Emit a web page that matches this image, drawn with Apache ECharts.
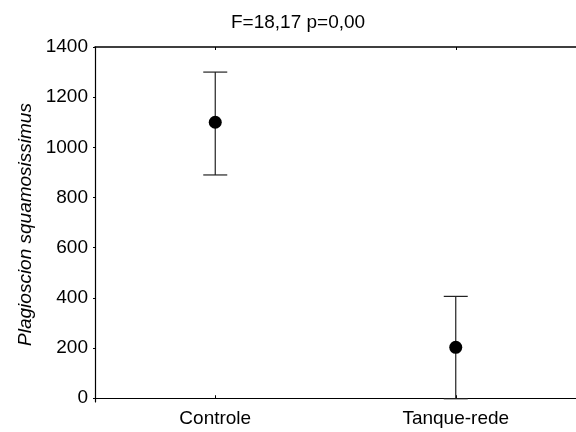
<!DOCTYPE html>
<html>
<head>
<meta charset="utf-8">
<script src="https://cdn.jsdelivr.net/npm/echarts@6/dist/echarts.min.js"></script>
<style>html,body{margin:0;padding:0;background:#fff}#c{width:576px;height:432px}</style>
</head>
<body>
<div id="c"></div>
<script>
const categories = ["Controle", "Tanque-rede"];
const means = [1100, 203];
const upper = [1300, 406];
const lower = [890, -2];
const yTicks = [0, 200, 400, 600, 800, 1000, 1200, 1400];
const titleText = "F=18,17 p=0,00";
const yName = "Plagioscion squamosissimus";

const FONT = "Liberation Sans, Arial, sans-serif";
const chart = echarts.init(document.getElementById('c'), null, {renderer: 'canvas'});
const errData = categories.map((c, i) => [i, lower[i], upper[i]]);

chart.setOption({
  animation: false,
  backgroundColor: '#fff',
  title: {
    text: titleText, left: 226, top: 8,
    textStyle: {fontFamily: FONT, fontSize: 19, fontWeight: 'normal', color: '#000'}
  },
  grid: {left: 95, right: -3, top: 47, bottom: 30, containLabel: false},
  xAxis: [{
    type: 'category', data: categories, position: 'bottom',
    boundaryGap: true,
    axisLine: {show: true, lineStyle: {color: '#000', width: 1.2}},
    axisTick: {show: true, inside: true, length: 3, alignWithLabel: true, lineStyle: {color: '#000'}},
    axisLabel: {fontFamily: FONT, fontSize: 19, color: '#000', margin: 7},
    splitLine: {show: false}
  }, {
    type: 'category', data: categories, position: 'top',
    boundaryGap: true,
    axisLine: {show: true, lineStyle: {color: '#000', width: 1.5}},
    axisTick: {show: true, inside: true, length: 3, alignWithLabel: true, lineStyle: {color: '#000'}},
    axisLabel: {show: false},
    splitLine: {show: false}
  }],
  yAxis: {
    type: 'value', min: -15, max: 1400,
    name: yName, nameLocation: 'middle', nameGap: 57,
    nameTextStyle: {fontFamily: FONT, fontSize: 19, fontStyle: 'italic', color: '#000'},
    axisLine: {show: true, lineStyle: {color: '#000', width: 1.2}},
    axisTick: {show: true, inside: false, length: 2, customValues: yTicks, lineStyle: {color: '#000'}},
    axisLabel: {fontFamily: FONT, fontSize: 19, color: '#000', margin: 7, customValues: yTicks,
      formatter: function (v) { return String(v); }},
    splitLine: {show: false}
  },
  series: [{
    type: 'custom',
    data: errData,
    encode: {x: 0, y: [1, 2]},
    renderItem: function (params, api) {
      const x = api.value(0);
      const lo = api.coord([x, api.value(1)]);
      const hi = api.coord([x, api.value(2)]);
      const hw = 12;
      const style = {stroke: '#222', lineWidth: 1.2};
      return {
        type: 'group',
        children: [
          {type: 'line', shape: {x1: lo[0], y1: lo[1], x2: hi[0], y2: hi[1]}, style: style},
          {type: 'line', shape: {x1: hi[0] - hw, y1: hi[1], x2: hi[0] + hw, y2: hi[1]}, style: style},
          {type: 'line', shape: {x1: lo[0] - hw, y1: lo[1], x2: lo[0] + hw, y2: lo[1]}, style: style}
        ]
      };
    },
    z: 2
  }, {
    type: 'scatter',
    data: means.map((v, i) => [i, v]),
    symbol: 'circle', symbolSize: 13,
    itemStyle: {color: '#000', opacity: 1},
    z: 3
  }]
});
</script>
</body>
</html>
